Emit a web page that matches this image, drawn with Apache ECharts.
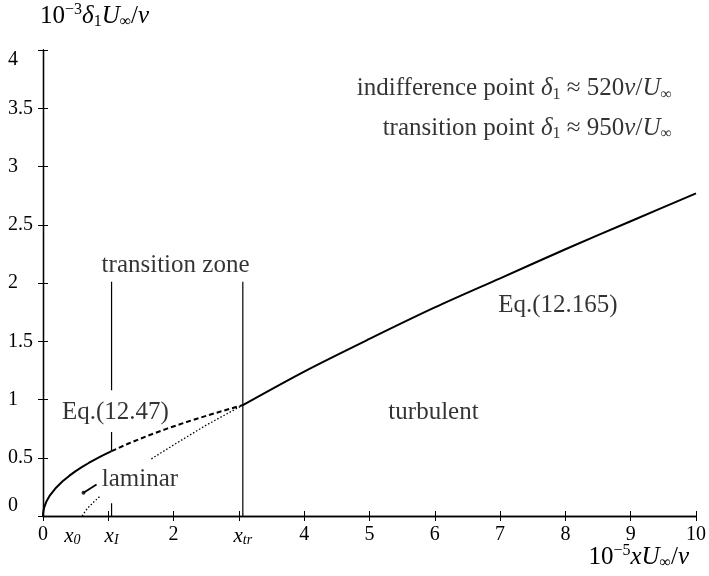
<!DOCTYPE html>
<html><head><meta charset="utf-8">
<script src="https://cdn.jsdelivr.net/npm/echarts@6/dist/echarts.min.js"></script>
<style>html,body{margin:0;padding:0;background:#fff}#c{width:709px;height:576px}</style>
</head><body><div id="c"></div>
<script>
const FONT = '"Liberation Serif", "Times New Roman", serif';

// axis ticks / labels
const xLabelValues = [0, 0.45, 1.05, 2, 3.06, 4, 5, 6, 7, 8, 9, 10];
const xLabelTexts = ['0', '{i|x}{s|0}', '{i|x}{s|I}', '2', '{i|x}{s|tr}', '4', '5', '6', '7', '8', '9', '10'];

// laminar curve (solid) up to indifference point
const laminarX = [0, 0.002, 0.005, 0.01, 0.02, 0.05, 0.1, 0.2, 0.3, 0.4, 0.5, 0.6, 0.7, 0.8, 0.9, 1.05];
const laminarY = [0, 0.024, 0.038, 0.054, 0.077, 0.122, 0.172, 0.243, 0.298, 0.344, 0.385, 0.421, 0.455, 0.487, 0.516, 0.557];
// laminar continuation in transition zone (dashed)
const transX = [1.05, 1.3, 1.6, 1.9, 2.2, 2.5, 2.8, 3.06];
const transY = [0.557, 0.620, 0.688, 0.750, 0.807, 0.860, 0.910, 0.952];
// turbulent curve (solid)
const turbX = [3.06, 4, 5, 6, 7, 8, 9, 10];
const turbY = [0.952, 1.24, 1.52, 1.79, 2.04, 2.29, 2.53, 2.77];
// turbulent backward extension (dotted)
const dot1X = [0.6, 0.65, 0.7, 0.75, 0.8, 0.87];
const dot1Y = [0, 0.044, 0.077, 0.105, 0.132, 0.168];
const dot2X = [1.66, 2, 2.5, 3.06];
const dot2Y = [0.49, 0.61, 0.78, 0.952];
// vertical markers
const xI = 1.05, xTr = 3.06;
const vILower = [[0.72, 0.557], [0, 0.11]];
const vIUpper = [2.01, 1.08];
const vTr = [2.01, 0];
// leader line for "laminar"
const leaderX = [0.62, 0.82];
const leaderY = [0.20, 0.27];

// annotations
const annTexts = ['transition zone', 'Eq.(12.47)', 'laminar', 'turbulent', 'Eq.(12.165)',
  'indifference point {i|δ}{s|1} ≈ 520{i|ν}/{i|U}{s|∞}', 'transition point {i|δ}{s|1} ≈ 950{i|ν}/{i|U}{s|∞}'];
const annX = [2.03, 0.29, 0.90, 5.98, 6.97, 9.63, 9.63];
const annY = [2.15, 0.89, 0.31, 0.89, 1.81, 3.67, 3.33];
const annAlign = ['center', 'left', 'left', 'center', 'left', 'right', 'right'];

const pairs = (xs, ys) => xs.map((x, i) => [x, ys[i]]);
const richBase = {
  i: {fontFamily: FONT, fontStyle: 'italic', fontSize: 25, color: '#000', lineHeight: 28},
  s: {fontFamily: FONT, fontSize: 16, color: '#000', verticalAlign: 'bottom', lineHeight: 15},
  sup: {fontFamily: FONT, fontSize: 16, color: '#000', verticalAlign: 'top', lineHeight: 15}
};
const richTick = {
  i: {fontFamily: FONT, fontStyle: 'italic', fontSize: 21, color: '#000', lineHeight: 22},
  s: {fontFamily: FONT, fontStyle: 'italic', fontSize: 14, color: '#000', verticalAlign: 'bottom', lineHeight: 12}
};

const chart = echarts.init(document.getElementById('c'), null, {renderer: 'canvas'});
const plain = (name, data, width, type) => ({
  type: 'line', name, data, symbol: 'none', silent: true, animation: false,
  lineStyle: {color: '#000', width, type}, z: 3
});

const series = [
  plain('laminar', pairs(laminarX, laminarY), 2, 'solid'),
  plain('trans', pairs(transX, transY), 2, [5, 3]),
  Object.assign(plain('turb', pairs(turbX, turbY), 2, 'solid'), {smooth: 0.3}),
  plain('dot1', pairs(dot1X, dot1Y), 1.3, [1.5, 2]),
  plain('dot2', pairs(dot2X, dot2Y), 1.3, [1.5, 2]),
  plain('vIu', vIUpper.map(y => [xI, y]), 1.2, 'solid'),
  plain('vIl1', vILower[0].map(y => [xI, y]), 1.2, 'solid'),
  plain('vIl2', vILower[1].map(y => [xI, y]), 1.2, 'solid'),
  plain('vTr', vTr.map(y => [xTr, y]), 1.2, 'solid'),
  plain('leader', pairs(leaderX, leaderY), 1.8, 'solid'),
  {
    type: 'scatter', silent: true, animation: false, z: 4, symbol: 'circle', symbolSize: 4,
    itemStyle: {color: '#000'}, data: [[leaderX[0], leaderY[0]]]
  },
  {
    type: 'scatter', symbolSize: 0, silent: true, animation: false, z: 5,
    data: annTexts.map((t, i) => ({
      value: [annX[i], annY[i]],
      label: {
        show: true, position: 'inside', formatter: t, align: annAlign[i], verticalAlign: 'middle',
        fontFamily: FONT, fontSize: 25, color: '#000', rich: richBase
      }
    }))
  }
];

chart.setOption({
  backgroundColor: '#fff',
  animation: false,
  grid: {left: 43, right: 13, top: 50, bottom: 60, containLabel: false},
  xAxis: [{
    type: 'value', min: 0, max: 10, interval: 1,
    axisLine: {show: true, lineStyle: {color: '#000', width: 1.3}},
    axisTick: {show: true, inside: true, length: 5, lineStyle: {color: '#000'}},
    splitLine: {show: false},
    axisLabel: {
      customValues: xLabelValues,
      formatter: v => { const k = xLabelValues.findIndex(u => Math.abs(u - v) < 1e-6); return k >= 0 ? xLabelTexts[k] : ''; },
      fontFamily: FONT, fontSize: 20, color: '#000', margin: 9, rich: richTick
    }
  }, {
    type: 'value', min: 0, max: 10, interval: 1, position: 'top',
    axisLine: {show: true, lineStyle: {color: '#000', width: 1.3}},
    axisTick: {show: true, inside: true, length: 5, lineStyle: {color: '#000'}},
    axisLabel: {show: false}, splitLine: {show: false}
  }],
  yAxis: [{
    type: 'value', min: 0, max: 4, interval: 0.5,
    axisLine: {show: true, lineStyle: {color: '#000', width: 1.3}},
    axisTick: {show: true, inside: true, length: 5, lineStyle: {color: '#000'}},
    splitLine: {show: false},
    axisLabel: {
      fontFamily: FONT, fontSize: 20, color: '#000', align: 'left', margin: 35,
      verticalAlignMinLabel: 'bottom', verticalAlignMaxLabel: 'top'
    }
  }, {
    type: 'value', min: 0, max: 4, interval: 0.5, position: 'right',
    axisLine: {show: true, lineStyle: {color: '#000', width: 1.3}},
    axisTick: {show: true, inside: true, length: 5, lineStyle: {color: '#000'}},
    axisLabel: {show: false}, splitLine: {show: false}
  }],
  graphic: [
    {type: 'text', left: 40, top: 2, silent: true,
     style: {text: '10{sup|−3}{i|δ}{s|1}{i|U}{s|∞}/{i|ν}', fontFamily: FONT, fontSize: 25, fill: '#000', rich: richBase}},
    {type: 'text', right: 20, top: 543, silent: true,
     style: {text: '10{sup|−5}{i|xU}{s|∞}/{i|ν}', fontFamily: FONT, fontSize: 25, fill: '#000', rich: richBase}}
  ],
  series
});
</script>
</body></html>
